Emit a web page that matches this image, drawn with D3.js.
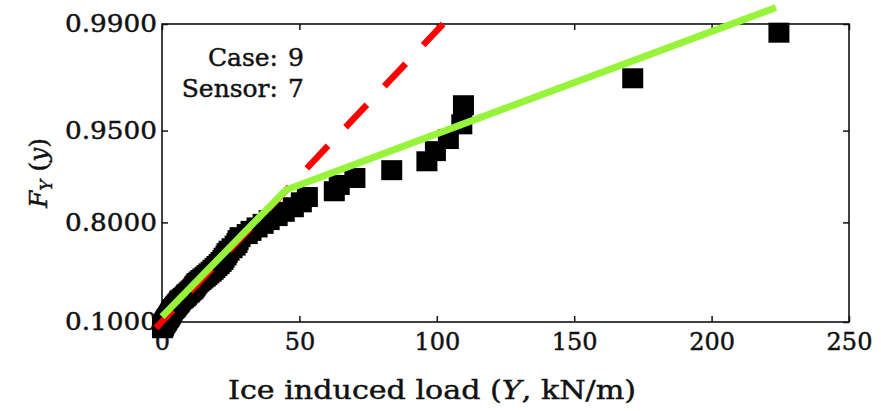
<!DOCTYPE html>
<html>
<head>
<meta charset="utf-8">
<script src="https://cdn.jsdelivr.net/npm/d3@7"></script>
<style>
  body { margin: 0; background: #fff; }
  svg { display: block; }
  text { font-family: "DejaVu Serif", "Liberation Serif", serif; fill: #111; stroke: #111; stroke-width: 0.45px; }
</style>
</head>
<body>
<svg id="chart" width="881" height="411"></svg>
<script>
// Sorted ice-induced loads (kN/m) and their plotting-position probabilities
const loads = [
  0.2, 0.2, 0.4, 0.4, 0.5, 0.7, 0.9, 1.1, 1.3, 1.5,
  1.6, 1.8, 2.0, 2.4, 2.5, 2.7, 2.9, 3.1, 3.3, 3.5,
  3.6, 3.8, 4.2, 4.6, 4.9, 5.1, 5.5, 5.8, 6.2, 6.4,
  6.7, 7.3, 7.8, 8.4, 8.8, 9.1, 9.8, 10.2, 10.8, 11.3,
  11.7, 12.0, 12.4, 12.8, 13.5, 14.2, 14.9, 15.7, 16.4, 17.1,
  17.9, 18.6, 19.3, 20.0, 20.8, 21.5, 22.2, 22.6, 23.3, 23.7,
  24.4, 25.5, 26.6, 27.3, 27.7, 28.4, 31.0, 32.4, 34.6, 36.8,
  39.0, 41.9, 44.5, 47.8, 50.7, 52.9, 62.7, 64.5, 70.2, 83.6,
  96.4, 99.5, 104.2, 109.1, 109.7, 171.3, 224.5
];
const probs = [
  0.0114, 0.0227, 0.0341, 0.0455, 0.0568, 0.0682, 0.0795, 0.0909, 0.1023, 0.1136,
  0.1250, 0.1364, 0.1477, 0.1591, 0.1705, 0.1818, 0.1932, 0.2045, 0.2159, 0.2273,
  0.2386, 0.2500, 0.2614, 0.2727, 0.2841, 0.2955, 0.3068, 0.3182, 0.3295, 0.3409,
  0.3523, 0.3636, 0.3750, 0.3864, 0.3977, 0.4091, 0.4205, 0.4318, 0.4432, 0.4545,
  0.4659, 0.4773, 0.4886, 0.5000, 0.5114, 0.5227, 0.5341, 0.5455, 0.5568, 0.5682,
  0.5795, 0.5909, 0.6023, 0.6136, 0.6250, 0.6364, 0.6477, 0.6591, 0.6705, 0.6818,
  0.6932, 0.7045, 0.7159, 0.7273, 0.7386, 0.7500, 0.7614, 0.7727, 0.7841, 0.7955,
  0.8068, 0.8182, 0.8295, 0.8409, 0.8523, 0.8636, 0.8750, 0.8864, 0.8977, 0.9091,
  0.9205, 0.9318, 0.9432, 0.9545, 0.9659, 0.9773, 0.9886
];

// Bilinear fit (green) and single-slope tail extrapolation (red dashed)
const fitLoad = [0, 45.1, 223.4];
const fitProb = [0.17, 0.8775, 0.9922];
const tailLoad = [-2.2, 102.3];
const tailProb = [0.0147, 0.99];

const xTicks = [0, 50, 100, 150, 200, 250];
const yTicks = [0.1, 0.8, 0.95, 0.99];
const yTickLabels = ["0.1000", "0.8000", "0.9500", "0.9900"];
const infoKeys = ["Case:", "Sensor:"];
const infoValues = ["9", "7"];

const plot = { left: 162, right: 849, top: 24, bottom: 322 };

const svg = d3.select("#chart");

// Exponential probability paper: linear in -ln(1 - p)
const reduced = p => -Math.log(1 - p);
const yT = d3.scaleLinear()
  .domain([reduced(yTicks[0]), reduced(yTicks[yTicks.length - 1])])
  .range([plot.bottom, plot.top]);
const y = p => yT(reduced(p));
const x = d3.scaleLinear().domain([0, 250]).range([plot.left, plot.right]);

// Frame
svg.append("rect")
  .attr("x", plot.left).attr("y", plot.top)
  .attr("width", plot.right - plot.left).attr("height", plot.bottom - plot.top)
  .attr("fill", "none").attr("stroke", "#111").attr("stroke-width", 1.6);

function styleAxis(g) {
  g.select(".domain").remove();
  g.selectAll(".tick line").attr("stroke", "#111").attr("stroke-width", 1.5);
  g.selectAll(".tick text").attr("font-family", "DejaVu Serif").attr("fill", "#111");
}

const tickFmtY = d => yTickLabels[yTicks.findIndex(p => Math.abs(reduced(p) - d) < 1e-9)];

svg.append("g")
  .attr("transform", `translate(0,${plot.bottom})`)
  .call(d3.axisBottom(x).tickValues(xTicks).tickSize(-6).tickSizeOuter(0).tickPadding(11))
  .call(styleAxis)
  .call(g => g.selectAll(".tick text").attr("font-size", 24));

svg.append("g")
  .attr("transform", `translate(0,${plot.top})`)
  .call(d3.axisTop(x).tickValues(xTicks).tickSize(-6).tickSizeOuter(0).tickFormat(""))
  .call(styleAxis);

svg.append("g")
  .attr("transform", `translate(${plot.left},0)`)
  .call(d3.axisLeft(yT).tickValues(yTicks.map(reduced)).tickSize(-6).tickSizeOuter(0)
    .tickPadding(5).tickFormat(tickFmtY))
  .call(styleAxis)
  .call(g => g.selectAll(".tick text")
    .attr("font-size", 24)
    .attr("textLength", 92)
    .attr("lengthAdjust", "spacingAndGlyphs"));

svg.append("g")
  .attr("transform", `translate(${plot.right},0)`)
  .call(d3.axisRight(yT).tickValues(yTicks.map(reduced)).tickSize(-6).tickSizeOuter(0).tickFormat(""))
  .call(styleAxis);

// Observed loads
svg.append("g")
  .selectAll("rect")
  .data(loads.map((v, i) => ({ load: v, p: probs[i] })))
  .join("rect")
  .attr("x", d => x(d.load) - 10.5)
  .attr("y", d => y(d.p) - 10)
  .attr("width", 21)
  .attr("height", 20)
  .attr("fill", "#000");

const line = d3.line().x(d => x(d[0])).y(d => y(d[1]));

svg.append("path")
  .datum(tailLoad.map((v, i) => [v, tailProb[i]]))
  .attr("d", line)
  .attr("fill", "none")
  .attr("stroke", "#ff0000")
  .attr("stroke-width", 6.5)
  .attr("stroke-dasharray", "31,25.5")
  .attr("stroke-dashoffset", 6.4);

svg.append("path")
  .datum(fitLoad.map((v, i) => [v, fitProb[i]]))
  .attr("d", line)
  .attr("fill", "none")
  .attr("stroke", "#98f43a")
  .attr("stroke-width", 7)
  .attr("stroke-linejoin", "round");

// Case / sensor annotation
const info = svg.append("g").attr("font-size", 25);
infoKeys.forEach((k, i) => {
  const by = [66, 97][i];
  info.append("text").attr("x", 278).attr("y", by).attr("text-anchor", "end").text(k);
  info.append("text").attr("x", 288).attr("y", by).text(infoValues[i]);
});

// Axis titles
const xt = svg.append("text")
  .attr("x", 432).attr("y", 399)
  .attr("text-anchor", "middle")
  .attr("font-size", 26)
  .attr("textLength", 408)
  .attr("lengthAdjust", "spacingAndGlyphs");
xt.append("tspan").text("Ice induced load (");
xt.append("tspan").attr("font-style", "italic").text("Y");
xt.append("tspan").text(", kN/m)");

const yt = svg.append("text")
  .attr("transform", "translate(47,173) rotate(-90)")
  .attr("text-anchor", "middle")
  .attr("font-size", 25);
yt.append("tspan").attr("font-style", "italic").text("F");
yt.append("tspan").attr("font-style", "italic").attr("font-size", 17).attr("dy", 5).text("Y");
yt.append("tspan").attr("dy", -5).text(" (");
yt.append("tspan").attr("font-style", "italic").text("y");
yt.append("tspan").text(")");
</script>
</body>
</html>
